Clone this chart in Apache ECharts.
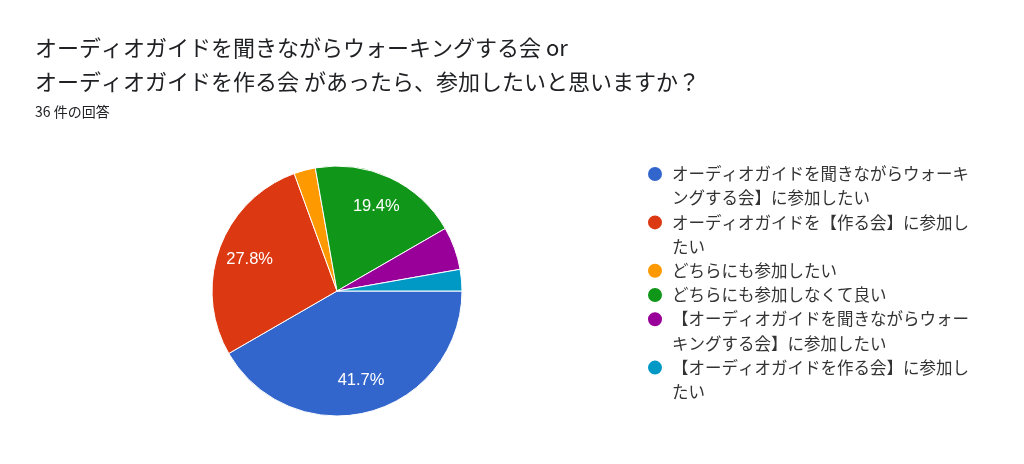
<!DOCTYPE html>
<html>
<head>
<meta charset="utf-8">
<script src="https://cdn.jsdelivr.net/npm/echarts@6/dist/echarts.min.js"></script>
<style>
html,body{margin:0;padding:0;background:#fff;}
#chart{width:1024px;height:464px;}
</style>
</head>
<body>
<div id="chart"></div>
<script>
const titleText = 'オーディオガイドを聞きながらウォーキングする会 or\nオーディオガイドを作る会 があったら、参加したいと思いますか？';
const subText = '36 件の回答';
const categories = [
  'オーディオガイドを聞きながらウォーキングする会】に参加したい',
  'オーディオガイドを【作る会】に参加したい',
  'どちらにも参加したい',
  'どちらにも参加しなくて良い',
  '【オーディオガイドを聞きながらウォーキングする会】に参加したい',
  '【オーディオガイドを作る会】に参加したい'
];
const legendLabels = [
  'オーディオガイドを聞きながらウォーキ\nングする会】に参加したい',
  'オーディオガイドを【作る会】に参加し\nたい',
  'どちらにも参加したい',
  'どちらにも参加しなくて良い',
  '【オーディオガイドを聞きながらウォー\nキングする会】に参加したい',
  '【オーディオガイドを作る会】に参加し\nたい'
];
const values = [15, 10, 1, 7, 2, 1];
const colors = ['#3366cc', '#dc3912', '#ff9900', '#109618', '#990099', '#0099c6'];

const pieData = categories.map((name, i) => ({ name: name, value: values[i], itemStyle: { color: colors[i] } }));

// one legend per item so the icon lines up with the first text line
const L = 24.2;
const firstIconY = 174;
const legends = [];
let yCursor = firstIconY;
legendLabels.forEach((lab, i) => {
  const n = lab.split('\n').length;
  // leading empty lines keep the first text line centred on the icon
  const shown = '\n'.repeat(n - 1) + lab;
  const boxH = (2 * n - 1) * L;
  legends.push({
    data: [categories[i]],
    orient: 'vertical',
    left: 646,
    top: yCursor - boxH / 2,
    padding: 0,
    itemWidth: 24,
    itemHeight: 16,
    icon: 'circle',
    formatter: () => shown,
    textStyle: {
      fontSize: 16.5,
      lineHeight: L,
      color: '#333',
      fontFamily: 'Noto Sans CJK JP'
    },
    selectedMode: false
  });
  yCursor += n * L;
});

const chart = echarts.init(document.getElementById('chart'), null, { renderer: 'canvas' });
chart.setOption({
  backgroundColor: '#fff',
  animation: false,
  title: {
    text: titleText,
    subtext: subText,
    left: 35,
    top: 31,
    padding: 0,
    itemGap: 3,
    textStyle: { fontSize: 22, lineHeight: 34, fontWeight: 'normal', color: '#202124', fontFamily: 'Noto Sans CJK JP' },
    subtextStyle: { fontSize: 14, lineHeight: 20, color: '#202124', fontFamily: 'Noto Sans CJK JP' }
  },
  legend: legends,
  series: [
    {
      type: 'pie',
      center: [337, 291],
      radius: [0, 125],
      startAngle: 0,
      clockwise: true,
      avoidLabelOverlap: false,
      label: { show: false },
      labelLine: { show: false },
      itemStyle: { borderColor: '#fff', borderWidth: 1 },
      emphasis: { disabled: true },
      data: pieData
    },
    {
      type: 'pie',
      center: [337, 291],
      radius: [0, 180],
      startAngle: 0,
      clockwise: true,
      silent: true,
      percentPrecision: 1,
      avoidLabelOverlap: false,
      itemStyle: { color: 'rgba(0,0,0,0)', borderWidth: 0 },
      emphasis: { disabled: true },
      labelLine: { show: false },
      label: {
        show: true,
        position: 'inside',
        color: '#fff',
        fontSize: 16.5,
        fontFamily: 'Liberation Sans',
        formatter: p => (p.percent >= 10 ? p.percent.toFixed(1) + '%' : '')
      },
      data: categories.map((name, i) => ({ name: name, value: values[i] }))
    }
  ]
});
</script>
</body>
</html>
